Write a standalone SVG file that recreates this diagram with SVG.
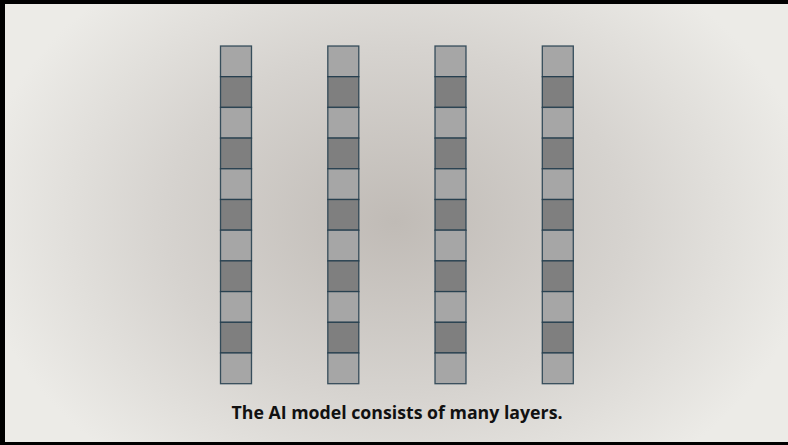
<svg xmlns="http://www.w3.org/2000/svg" width="788" height="445" viewBox="0 0 788 445">
<style>
.l{fill:#a6a6a6;stroke:#1e3a4a;stroke-width:1.3;stroke-opacity:0.85}
.d{fill:#7f7f7f;stroke:#1e3a4a;stroke-width:1.3;stroke-opacity:0.85}
.cap{font-family:"Open Sans","Liberation Sans",Arial,sans-serif;font-weight:bold;font-size:18px;fill:#111}
</style>
<defs>
<radialGradient id="bg" cx="395" cy="222" r="420" gradientUnits="userSpaceOnUse" gradientTransform="translate(395 222) scale(1 0.75) translate(-395 -222)">
<stop offset="0" stop-color="#c0bbb6"/>
<stop offset="0.55" stop-color="#d6d3cf"/>
<stop offset="1" stop-color="#ecebe7"/>
</radialGradient>
<g id="col">
<rect class="l" x="0" y="0" width="31" height="30.7"/>
<rect class="d" x="0" y="30.7" width="31" height="30.7"/>
<rect class="l" x="0" y="61.4" width="31" height="30.7"/>
<rect class="d" x="0" y="92.1" width="31" height="30.7"/>
<rect class="l" x="0" y="122.8" width="31" height="30.7"/>
<rect class="d" x="0" y="153.5" width="31" height="30.7"/>
<rect class="l" x="0" y="184.2" width="31" height="30.7"/>
<rect class="d" x="0" y="214.9" width="31" height="30.7"/>
<rect class="l" x="0" y="245.6" width="31" height="30.7"/>
<rect class="d" x="0" y="276.3" width="31" height="30.7"/>
<rect class="l" x="0" y="307" width="31" height="30.7"/>
</g>
</defs>
<rect x="0" y="0" width="788" height="445" fill="url(#bg)"/>
<path d="M0 0H788V4H5V442H788V445H0Z" fill="#000"/>
<g id="layer1"><use href="#col" x="220.5" y="46"/></g>
<g id="layer2"><use href="#col" x="327.8" y="46"/></g>
<g id="layer3"><use href="#col" x="435" y="46"/></g>
<g id="layer4"><use href="#col" x="542.3" y="46"/></g>
<g id="connectors"></g>
<g id="caption"><text class="cap" x="397" y="419" text-anchor="middle" textLength="331" lengthAdjust="spacingAndGlyphs">The AI model consists of many layers.</text></g>
</svg>
